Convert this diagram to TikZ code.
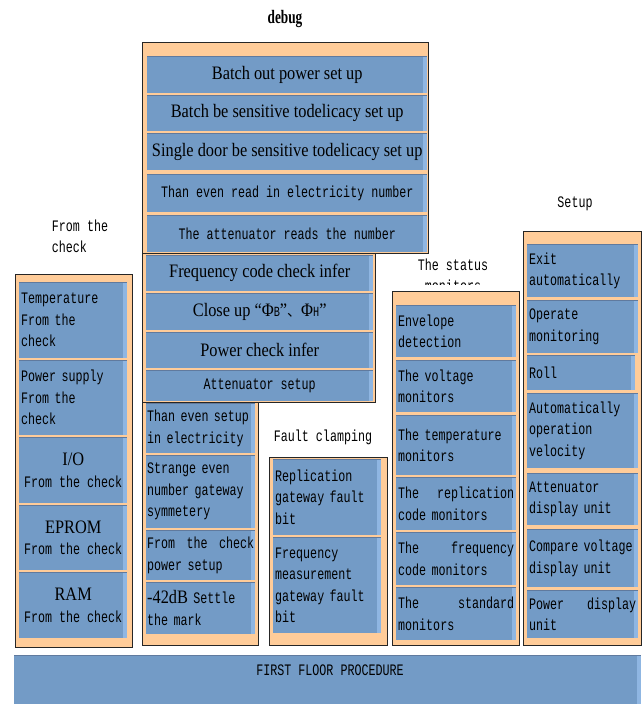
\documentclass[tikz,border=0pt]{standalone}
\usepackage{fontspec}
\usepackage{tikz}
\newfontfamily\serifface[FakeStretch=0.86]{Liberation Serif}
\newfontfamily\monoface[FakeStretch=0.73]{Liberation Mono}
\newfontfamily\titleface[FakeStretch=0.7]{Liberation Serif}
\newfontfamily\cjkface{Noto Sans CJK SC}
\newcommand{\cellserif}{\serifface\fontsize{19}{22}\selectfont}
\newcommand{\cellmono}{\monoface\fontsize{16}{21.5}\selectfont}
\newcommand{\smallmono}{\monoface\fontsize{14}{14}\selectfont}
\definecolor{cellblue}{RGB}{115,155,198}
\definecolor{cellhi}{RGB}{143,182,226}
\definecolor{celledge}{RGB}{96,122,158}
\definecolor{panelorange}{RGB}{255,204,153}

\tikzset{
	panel/.style={fill=panelorange, draw=black!85, line width=0.8pt},
	cell/.style={rectangle, fill=cellblue, inner sep=0pt, anchor=north west, font=\cellmono,
		path picture={
			\fill[cellhi] ([xshift=-4pt]path picture bounding box.north east) rectangle (path picture bounding box.south east);
			\draw[celledge, line width=1.2pt] (path picture bounding box.north west) -- (path picture bounding box.north east);}},
	lcell/.style={cell, text width=#1, align=left},
	wh/.style 2 args={minimum width=#1pt, minimum height=#2pt},
	heading/.style={font=\cellmono}
}

\begin{document}
\begin{tikzpicture}[x=1pt, y=-1pt]
	\useasboundingbox (0,0) rectangle (643,704);
	% orange panels
	\foreach \xa/\ya/\xb/\yb in {142/42/428/253, 142/253/375/402, 142/402/258/645, 15/274/132/647, 269/457/387/645, 392/291/519/645, 523/231/641/645}
		\draw[panel] (\xa,\ya) rectangle (\xb,\yb);

	% headings
	\node[font=\titleface\bfseries\fontsize{19}{19}\selectfont] (debug) at (285,19) {debug};
	\node[heading, align=left] (checklabel) at (80,236.5) {From the\\check};
	\node[heading] (faultlabel) at (323,437) {Fault clamping};
	\begin{scope}
		\clip (380,240) rectangle (530,284.5);
		\node[heading, align=center] (statuslabel) at (453,275.5) {The status\\monitors};
	\end{scope}
	\node[heading] (setuplabel) at (575,204) {Setup};

	% debug
	\node[cell, wh={280}{37}, font=\cellserif] (batchout) at (147,56) {Batch out power set up};
	\node[cell, wh={280}{36}, font=\cellserif] (batchsense) at (147,95) {Batch be sensitive todelicacy set up};
	\node[cell, wh={280}{37}, font=\cellserif] (singledoor) at (147,133) {Single door be sensitive todelicacy set up};
	\node[cell, wh={280}{38}] (evenread) at (147,174) {Than even read in electricity number};
	\node[cell, wh={280}{37}] (attread) at (147,215) {The attenuator reads the number};
	\node[cell, wh={227}{36}, font=\cellserif] (freqinfer) at (146,255) {Frequency code check infer};
	\node[cell, wh={227}{37}, font=\cellserif] (closeup) at (146,293) {Close up “Φ{\smallmono B}”{\cjkface\fontsize{14}{14}\selectfont 、}Φ{\smallmono H}”};
	\node[cell, wh={227}{36}, font=\cellserif] (powerinfer) at (146,332) {Power check infer};
	\node[cell, wh={227}{31}] (attsetup) at (146,370) {Attenuator setup};
	\node[lcell=107pt, wh={109}{50}] (evensetup) at (146,403) {Than even setup\\in electricity};
	\node[lcell=107pt, wh={109}{73}] (strange) at (146,455) {Strange even\\number gateway\\symmetery};
	\node[lcell=107pt, wh={109}{50}] (checkpower) at (146,530) {From\hfill the\hfill check\\power setup};
	\node[lcell=107pt, wh={109}{52}] (settlemark) at (146,582) {{\cellserif -42dB} Settle\\the mark};

	% from the check
	\node[lcell=104pt, wh={108}{76}] (tempcheck) at (19,282) {Temperature\\From the\\check};
	\node[lcell=104pt, wh={108}{75}] (powercheck) at (19,360) {Power supply\\From the\\check};
	\node[cell, wh={108}{66}, align=center] (iocheck) at (19,437) {{\cellserif I/O}\\From the check};
	\node[cell, wh={108}{65}, align=center] (epromcheck) at (19,505) {{\cellserif EPROM}\\From the check};
	\node[cell, wh={108}{66}, align=center] (ramcheck) at (19,572) {{\cellserif RAM}\\From the check};

	% fault clamping
	\node[lcell=104pt, wh={108}{76}] (replfault) at (273,459) {Replication\\gateway fault\\bit};
	\node[lcell=104pt, wh={108}{96}] (freqfault) at (273,537) {Frequency\\measurement\\gateway fault\\bit};

	% status monitors
	\node[lcell=116pt, wh={120}{52}] (envelope) at (396,305) {Envelope\\detection};
	\node[lcell=116pt, wh={120}{52}] (voltmon) at (396,360) {The voltage\\monitors};
	\node[lcell=116pt, wh={120}{60}] (tempmon) at (396,415) {The temperature\\monitors};
	\node[lcell=116pt, wh={120}{53}] (replmon) at (396,477) {The\hfill replication\\code monitors};
	\node[lcell=116pt, wh={120}{53}] (freqmon) at (396,532) {The\hfill frequency\\code monitors};
	\node[lcell=116pt, wh={120}{53}] (stdmon) at (396,587) {The\hfill standard\\monitors};

	% setup
	\node[lcell=107pt, wh={111}{53}] (autoexit) at (527,244) {Exit\\automatically};
	\node[lcell=107pt, wh={111}{53}] (opmon) at (527,300) {Operate\\monitoring};
	\node[lcell=104pt, wh={108}{35}] (roll) at (527,355) {Roll};
	\node[lcell=107pt, wh={111}{75}] (autovel) at (527,393) {Automatically\\operation\\velocity};
	\node[lcell=107pt, wh={111}{52}] (attdisp) at (527,473) {Attenuator\\display unit};
	\node[lcell=107pt, wh={111}{58}] (cmpdisp) at (527,529) {Compare voltage\\display unit};
	\node[lcell=107pt, wh={111}{48}] (powdisp) at (527,590) {Power\hfill display\\unit};

	% first floor
	\node[cell, wh={627}{50}] (firstfloor) at (14,655) {};
	\node[heading] (firstfloortext) at (330,670) {FIRST FLOOR PROCEDURE};
\end{tikzpicture}
\end{document}
